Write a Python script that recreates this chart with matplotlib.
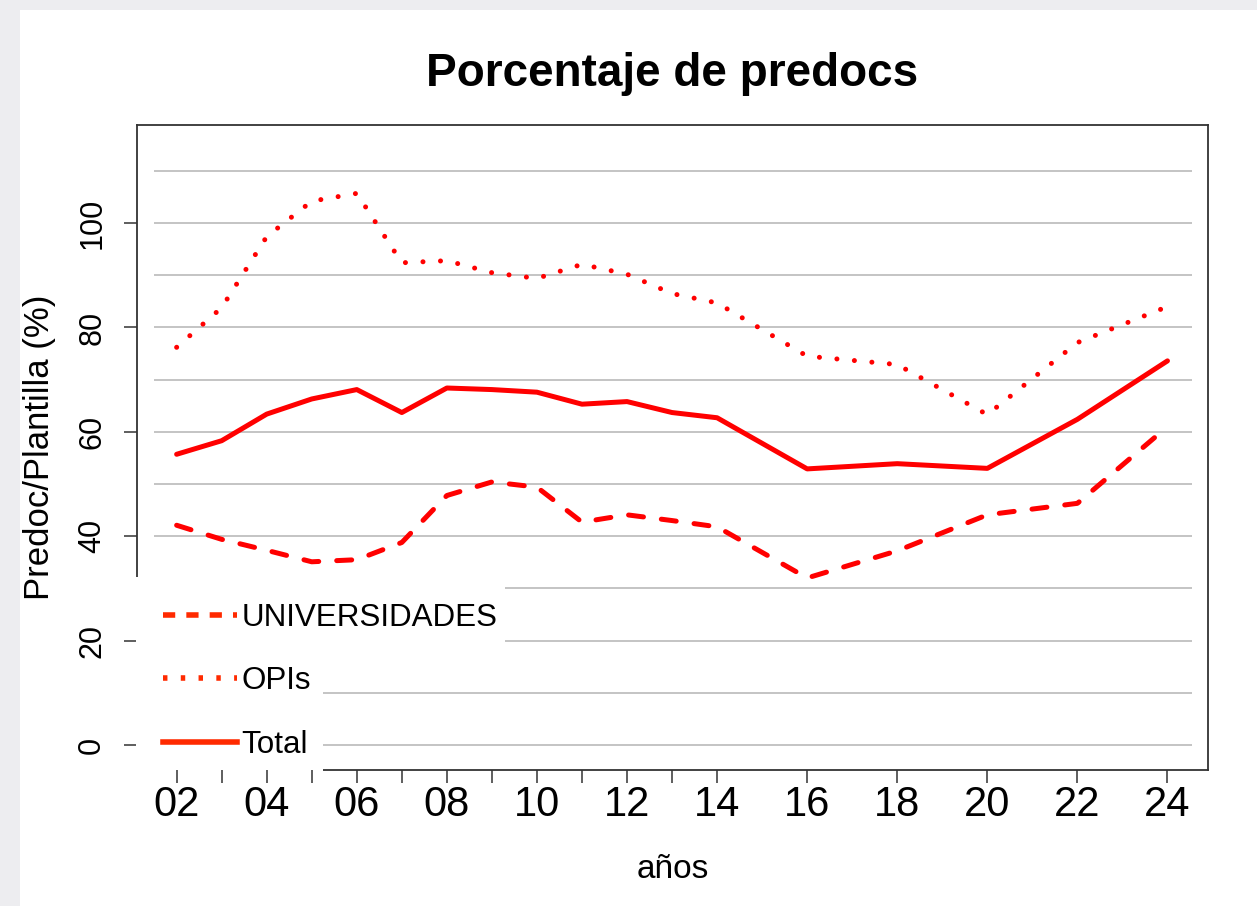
import matplotlib
matplotlib.use("Agg")
import matplotlib.pyplot as plt
from matplotlib.patches import Rectangle
from matplotlib.lines import Line2D

plt.rcParams['font.family'] = ['Liberation Sans', 'DejaVu Sans']

# datos
years = [2002, 2003, 2004, 2005, 2006, 2007, 2008, 2009, 2010, 2011, 2012,
         2013, 2014, 2016, 2018, 2020, 2022, 2024]
univ = [42.1, 39.4, 37.3, 35.1, 35.5, 38.8, 47.8, 50.4, 49.4, 42.7, 44.1,
        43.0, 41.8, 32.0, 37.2, 44.1, 46.3, 61.0]
opis = [76.2, 83.8, 97.4, 104.2, 105.7, 92.4, 92.8, 90.5, 89.4, 92.1, 90.2,
        86.5, 84.7, 74.5, 72.9, 63.3, 77.1, 84.0]
total = [55.7, 58.3, 63.4, 66.3, 68.1, 63.7, 68.4, 68.1, 67.6, 65.3, 65.8,
         63.7, 62.7, 52.9, 53.9, 53.0, 62.4, 73.6]
labels = ['UNIVERSIDADES', 'OPIs', 'Total']
yticks = [0, 20, 40, 60, 80, 100]
grid = list(range(0, 120, 10))

W, H = 1257, 906
fig = plt.figure(figsize=(W / 100, H / 100), dpi=100)
fig.patch.set_facecolor('#ededf0')
fig.add_artist(Rectangle((20 / W, 0), 1, 1 - 10 / H, transform=fig.transFigure,
                         facecolor='white', edgecolor='none', zorder=-1))

ax = fig.add_axes([137 / W, 1 - 770 / H, (1208 - 137) / W, (770 - 125) / H])
ax.set_xlim(2001.12, 2024.9)
ax.set_ylim(-4.8, 118.8)

ax.hlines(grid, 2001.5, 2024.55, color='#c4c4c4', lw=1.4, zorder=1)

lw = 3.6
ax.plot(years, univ, color='red', lw=lw, linestyle=(0, (3.0, 3.6)),
        dash_capstyle='round', zorder=3)
ax.plot(years, opis, color='red', lw=lw, linestyle=(0, (0.01, 3.5)),
        dash_capstyle='round', zorder=3)
ax.plot(years, total, color='red', lw=lw, solid_capstyle='round', zorder=3)

for s in ax.spines.values():
    s.set_linewidth(1.3)
    s.set_color('#333333')

ax.set_xticks(years)
ax.set_xticklabels([('%02d' % (y % 100)) if y % 2 == 0 else '' for y in years],
                   fontsize=30)
ax.tick_params(axis='x', length=9.5, width=1.1, pad=1, color='#333333')
ax.xaxis.set_zorder(4.5)
ax.set_yticks(yticks)
ax.set_yticklabels([str(v) for v in yticks], fontsize=22, rotation=90, va='center')
ax.tick_params(axis='y', length=9.5, width=1.1, pad=12, color='#333333')

ax.set_xlabel('años', fontsize=24, labelpad=21)
ax.set_ylabel('Predoc/Plantilla (%)', fontsize=25, labelpad=15)
ax.set_title('Porcentaje de predocs', fontsize=33, fontweight='bold', pad=28)

# fondo blanco de la leyenda (dos cajas, como en el original)
ax.add_patch(Rectangle((-0.001, (770 - 665) / 645), (505 - 136) / 1071, (665 - 577) / 645,
                       transform=ax.transAxes, facecolor='white', edgecolor='none',
                       clip_on=False, zorder=4))
ax.add_patch(Rectangle((-0.001, -1.2 / 645), (323 - 136) / 1071, (772 - 660) / 645,
                       transform=ax.transAxes, facecolor='white', edgecolor='none',
                       clip_on=False, zorder=4))

lc = '#ff2a00'
handles = [Line2D([], [], color=lc, lw=4, linestyle=(0, (2.2, 2.0))),
           Line2D([], [], color=lc, lw=4, linestyle=(0, (0.8, 2.4))),
           Line2D([], [], color=lc, lw=4)]
leg = ax.legend(handles, labels, loc='upper left',
                bbox_to_anchor=(163 / W, 1 - 603 / H), bbox_transform=fig.transFigure,
                frameon=False, fontsize=22.6, handlelength=2.35, handletextpad=0.15,
                labelspacing=1.06, borderpad=0, borderaxespad=0)
leg.set_zorder(5)

fig.savefig('out.png', dpi=100)
